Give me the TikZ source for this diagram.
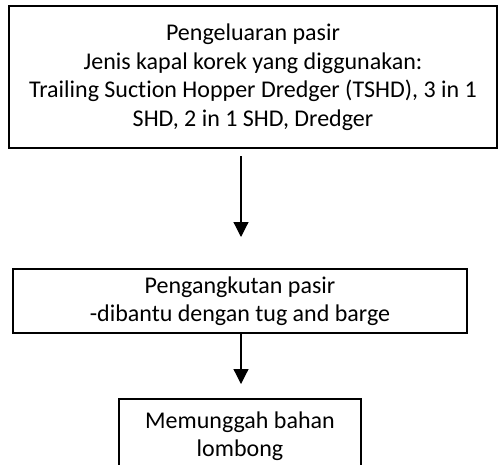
\documentclass[tikz,border=0pt]{standalone}
\usepackage{fontspec}
\setmainfont[Ligatures=CommonOff]{Carlito}
\usetikzlibrary{arrows.meta}
\begin{document}
\begin{tikzpicture}[x=1pt,y=-1pt,
  box/.style={draw=black, line width=2.5pt, inner sep=0pt, align=center,
    font=\fontsize{24}{28.5}\selectfont},
  arr/.style={line width=1.2pt, -{Triangle[width=15pt,length=15pt]}}]
\useasboundingbox (0,0) rectangle (498,464);
\node[box, minimum width=488, minimum height=142] (top) at (253,77)
  {Pengeluaran pasir\\Jenis kapal korek yang diggunakan:\\Trailing Suction Hopper Dredger (TSHD), 3 in 1\\SHD, 2 in 1 SHD, Dredger};
\node[box, minimum width=454, minimum height=64] (mid) at (240,301)
  {Pengangkutan pasir\\-dibantu dengan tug and barge};
\node[box, minimum width=242, minimum height=74] (bot) at (240,436)
  {Memunggah bahan\\lombong};
\coordinate (a1s) at (241,156);
\coordinate (a1e) at (241,237);
\coordinate (a2s) at (241,333);
\coordinate (a2e) at (241,384);
\draw[arr] (a1s) -- (a1e);
\draw[arr] (a2s) -- (a2e);
\end{tikzpicture}
\end{document}
